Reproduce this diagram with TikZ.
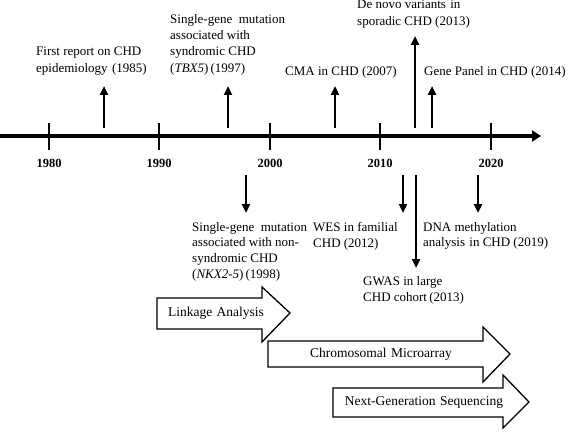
\documentclass[tikz,border=0pt]{standalone}
\usepackage{fontspec}
\setmainfont{Liberation Serif}
\usetikzlibrary{arrows.meta}
\begin{document}
\begin{tikzpicture}[x=1pt,y=-1pt,
 axis/.style={line width=4pt,-{Triangle[length=9pt,width=11pt]}},
 tickmark/.style={line width=2.6pt},
 evt/.style={line width=2.6pt,-{Triangle[length=9pt,width=8pt]}},
 lbl/.style={inner sep=0pt,anchor=north west,align=left,font=\fontsize{13}{16.3}\selectfont},
 lblb/.style={lbl,font=\fontsize{13}{15.7}\selectfont},
 yr/.style={font=\bfseries\fontsize{12.5}{14}\selectfont},
 blk/.style={draw,line width=1.3pt,fill=white,line join=miter},
 blktxt/.style={font=\fontsize{13.5}{16}\selectfont}]
\useasboundingbox (0,0) rectangle (570,433);
% axis
\coordinate (a0) at (0,136);
\coordinate (a1) at (541,136);
\draw[axis] (a0) -- (a1);
% ticks and years
\foreach \yy/\xx in {1980/49,1990/159,2000/270,2010/380,2020/491}{
  \coordinate (tt\yy) at (\xx,123);
  \coordinate (tb\yy) at (\xx,150);
  \draw[tickmark] (tt\yy) -- (tb\yy);
  \node[yr] (y\yy) at (\xx,163) {\yy};
}
% upward events
\foreach \nm/\xx/\ye in {u1985/104/86,u1997/228/86,u2007/335/86,u2013/415/36,u2014/432/86}{
  \coordinate (\nm s) at (\xx,128);
  \coordinate (\nm e) at (\xx,\ye);
  \draw[evt] (\nm s) -- (\nm e);
}
% downward events
\foreach \nm/\xx/\ye in {d1998/246/213,d2012/403/213,d2013/416/268,d2019/478/213}{
  \coordinate (\nm s) at (\xx,175);
  \coordinate (\nm e) at (\xx,\ye);
  \draw[evt] (\nm s) -- (\nm e);
}
% labels above
\node[lbl] (l1985) at (36,47) {First report on CHD\\epidemiology\,\,(1985)};
\node[lbl] (l1997) at (170,14) {Single-gene\,\,\,mutation\\associated with\\syndromic CHD\\(\textit{TBX5})\,(1997)};
\node[lbl] (l2007) at (285,66) {CMA in CHD (2007)};
\node[lbl] (l2013) at (357,0) {De novo variants\,\,in\\sporadic CHD (2013)};
\node[lbl] (l2014) at (424,66) {Gene Panel in CHD (2014)};
% labels below
\node[lblb] (l1998) at (192,222) {Single-gene\,\,\,mutation\\associated with non-\\syndromic CHD\\(\textit{NKX2-5})\,(1998)};
\node[lblb] (l2012) at (313,222) {WES in familial\\CHD (2012)};
\node[lblb] (l2019) at (423,222) {DNA methylation\\analysis\,\,in CHD (2019)};
\node[lbl] (l2013b) at (363,276) {GWAS in large\\CHD cohort\,(2013)};
% block arrows
\draw[blk] (157,298) -- (262,298) -- (262,287) -- (290,313) -- (262,342) -- (262,329) -- (157,329) -- cycle;
\node[blktxt] (link) at (216,313) {Linkage\,\,Analysis};
\draw[blk] (268,341) -- (483,341) -- (483,327) -- (510,354) -- (483,382) -- (483,367) -- (268,367) -- cycle;
\node[blktxt] (cma) at (381,354) {Chromosomal\,\,Microarray};
\draw[blk] (333,388) -- (503,388) -- (503,375) -- (529,402) -- (503,428) -- (503,417) -- (333,417) -- cycle;
\node[blktxt] (ngs) at (424,402) {Next-Generation\,\,Sequencing};
\end{tikzpicture}
\end{document}
